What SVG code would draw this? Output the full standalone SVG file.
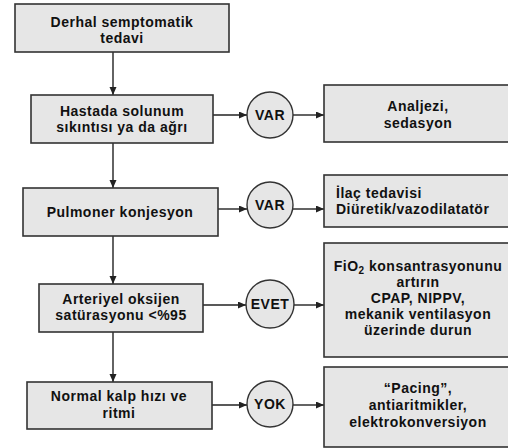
<svg xmlns="http://www.w3.org/2000/svg" width="508" height="448" viewBox="0 0 508 448">
<style>
.box{fill:#e6e6e6;stroke:#333;stroke-width:1.6}
.dec{fill:#e6e6e6;stroke:#333;stroke-width:1.4}
.t{font-family:"Liberation Sans",Arial,sans-serif;font-weight:bold;font-size:14px;letter-spacing:0.5px;fill:#111;text-anchor:middle}
.l{text-anchor:start}
.c{stroke:#222;stroke-width:1.4;fill:none}
</style>
<defs>
<marker id="ah" markerUnits="userSpaceOnUse" markerWidth="9" markerHeight="8" refX="8" refY="3.5" orient="auto">
<path d="M0,0 L8,3.5 L0,7 z" fill="#222"/>
</marker>
</defs>
<rect width="508" height="448" fill="#fff"/>
<g id="connectors">
<line class="c" x1="113" y1="52" x2="113" y2="95" marker-end="url(#ah)"/>
<line class="c" x1="113" y1="143" x2="113" y2="188" marker-end="url(#ah)"/>
<line class="c" x1="113" y1="236" x2="113" y2="284" marker-end="url(#ah)"/>
<line class="c" x1="113" y1="332" x2="113" y2="382" marker-end="url(#ah)"/>
<line class="c" x1="213" y1="115" x2="247" y2="115" marker-end="url(#ah)"/>
<line class="c" x1="293" y1="115" x2="324" y2="115" marker-end="url(#ah)"/>
<line class="c" x1="218" y1="209" x2="247" y2="209" marker-end="url(#ah)"/>
<line class="c" x1="293" y1="209" x2="324" y2="209" marker-end="url(#ah)"/>
<line class="c" x1="203" y1="305" x2="246" y2="305" marker-end="url(#ah)"/>
<line class="c" x1="294" y1="305" x2="324" y2="305" marker-end="url(#ah)"/>
<line class="c" x1="212" y1="405" x2="247" y2="405" marker-end="url(#ah)"/>
<line class="c" x1="293" y1="405" x2="324" y2="405" marker-end="url(#ah)"/>
</g>
<g id="n1"><rect class="box" x="15" y="4" width="214" height="48"/>
<text class="t" x="122" y="27">Derhal semptomatik</text><text class="t" x="122" y="43">tedavi</text></g>
<g id="n2"><rect class="box" x="31" y="95" width="182" height="48"/>
<text class="t" x="122" y="116">Hastada solunum</text><text class="t" x="122" y="132">sıkıntısı ya da ağrı</text></g>
<g id="n3"><rect class="box" x="23" y="188" width="195" height="48"/>
<text class="t" x="120" y="217">Pulmoner konjesyon</text></g>
<g id="n4"><rect class="box" x="39" y="284" width="164" height="48"/>
<text class="t" x="121" y="304">Arteriyel oksijen</text><text class="t" x="121" y="320">satürasyonu &lt;%95</text></g>
<g id="n5"><rect class="box" x="27" y="382" width="185" height="47"/>
<text class="t" x="119" y="401">Normal kalp hızı ve</text><text class="t" x="119" y="418">ritmi</text></g>
<g id="d1"><circle class="dec" cx="270" cy="115" r="23"/><text class="t" x="270" y="120">VAR</text></g>
<g id="d2"><circle class="dec" cx="270" cy="205" r="23"/><text class="t" x="270" y="210">VAR</text></g>
<g id="d3"><circle class="dec" cx="270" cy="304" r="24"/><text class="t" x="270" y="309">EVET</text></g>
<g id="d4"><circle class="dec" cx="270" cy="404" r="23"/><text class="t" x="270" y="409">YOK</text></g>
<g id="r1"><rect class="box" x="324" y="85" width="200" height="57"/>
<text class="t" x="418" y="111">Analjezi,</text><text class="t" x="418" y="128">sedasyon</text></g>
<g id="r2"><rect class="box" x="324" y="175" width="200" height="52"/>
<text class="t l" x="336" y="198">İlaç tedavisi</text><text class="t l" x="336" y="214">Diüretik/vazodilatatör</text></g>
<g id="r3"><rect class="box" x="324" y="243" width="200" height="114"/>
<text class="t" x="418" y="271">FiO<tspan font-size="10" dy="3">2</tspan><tspan dy="-3"> konsantrasyonunu</tspan></text>
<text class="t" x="418" y="287">artırın</text>
<text class="t" x="418" y="303">CPAP, NIPPV,</text>
<text class="t" x="418" y="319">mekanik ventilasyon</text>
<text class="t" x="418" y="335">üzerinde durun</text></g>
<g id="r4"><rect class="box" x="324" y="367" width="200" height="80"/>
<text class="t" x="418" y="393">“Pacing”,</text><text class="t" x="418" y="410">antiaritmikler,</text><text class="t" x="418" y="427">elektrokonversiyon</text></g>
</svg>
